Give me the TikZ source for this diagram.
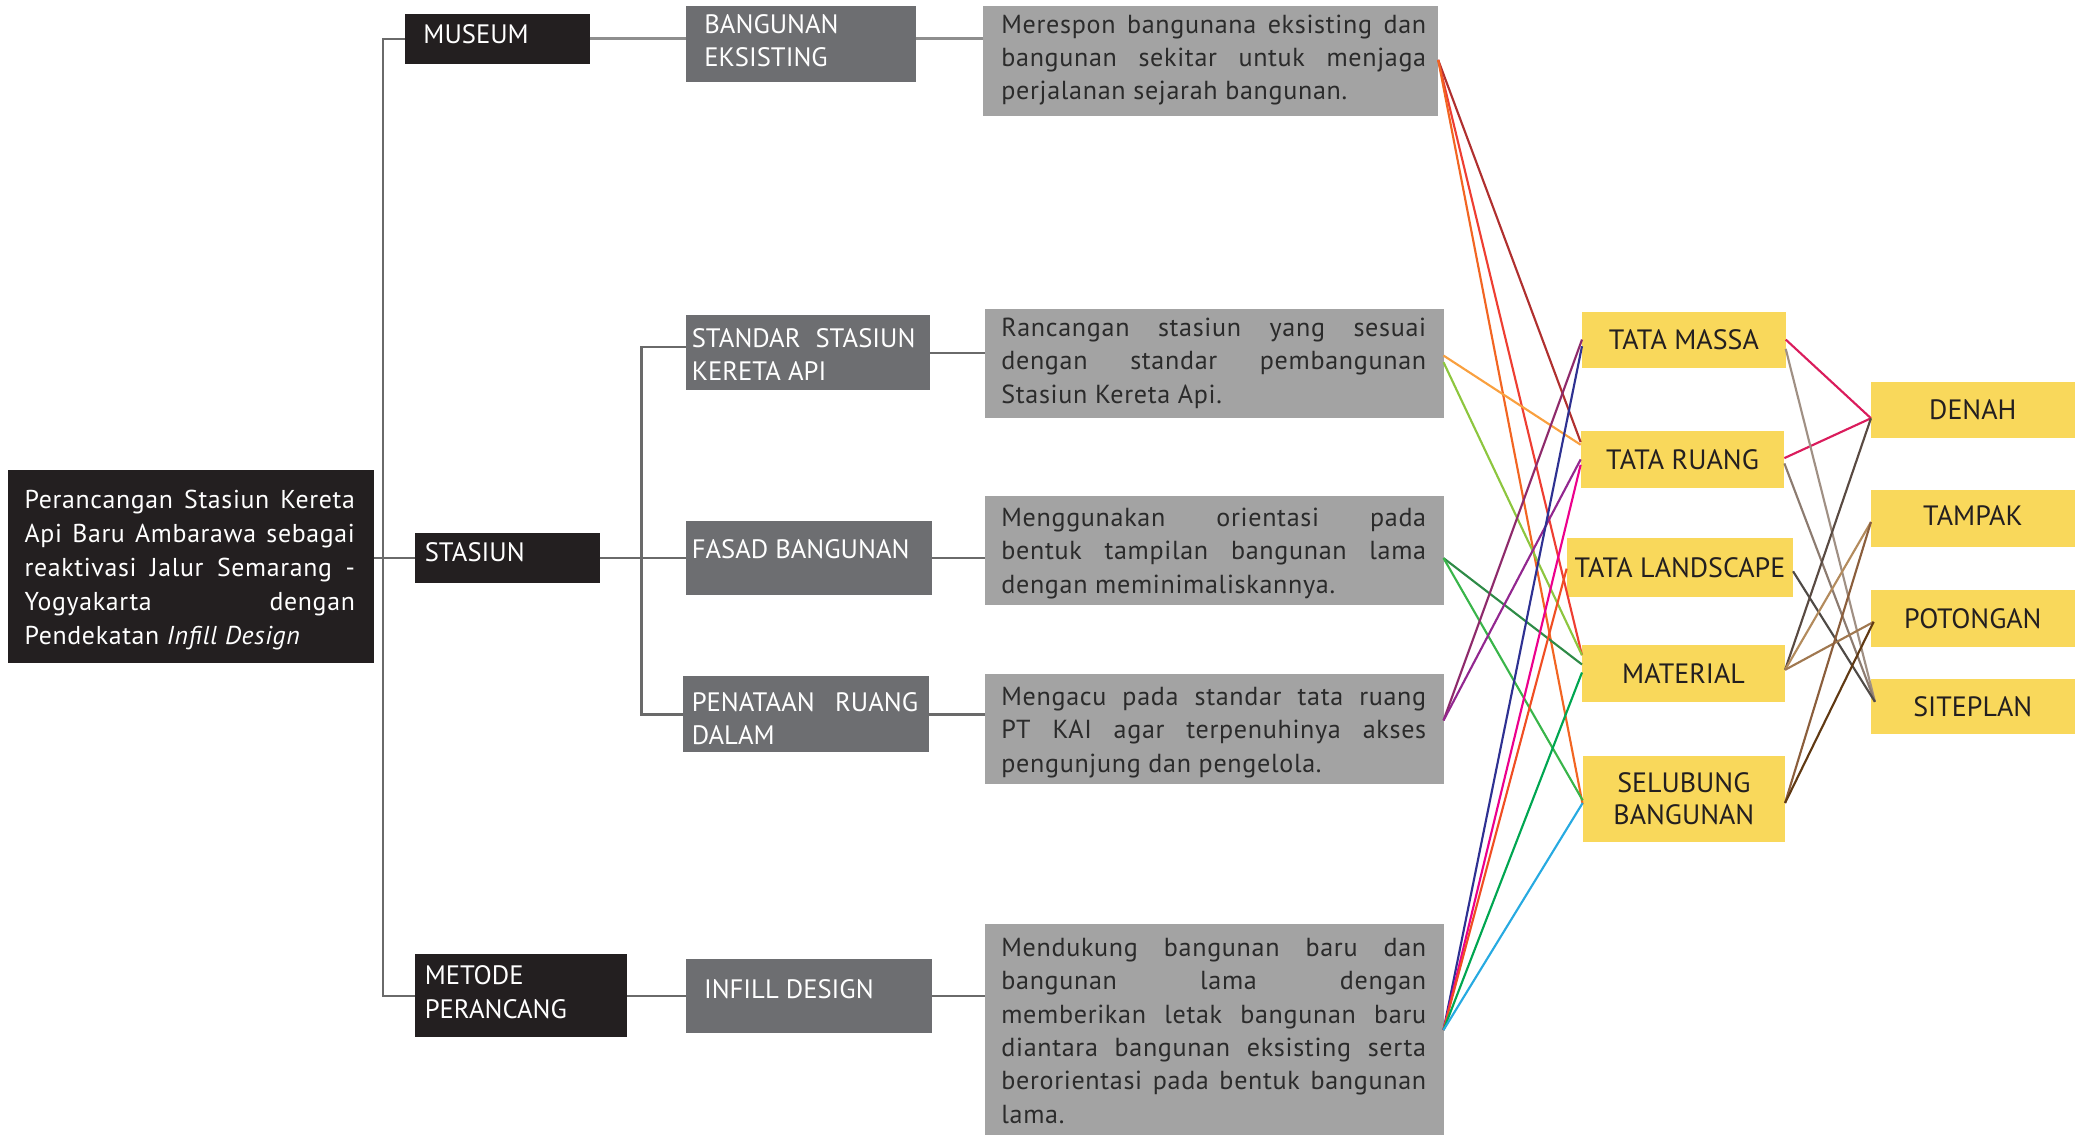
\documentclass[tikz,border=0pt]{standalone}
\usepackage{fontspec}
\setmainfont{PT Sans}
\newfontfamily\spacedfam[LetterSpace=2.6]{PT Sans}
\usetikzlibrary{calc}

% drawing unit
\newlength\un
\setlength\un{0.5pt}

% fonts
\newcommand\lblfont{\fontsize{10}{12.5}\selectfont}
\newcommand\txtfont{\spacedfam\fontsize{9.8}{12.5}\selectfont}
\newcommand\rootfont{\spacedfam\fontsize{9.7}{12.75}\selectfont}
\newcommand\ylwfont{\fontsize{10.5}{12}\selectfont}

% a justified line and a ragged line of box text
\newcommand\jline[1]{\hbox to\linewidth{\rule{0pt}{8pt}#1}}
\newcommand\rline[1]{\hbox to\linewidth{\rule{0pt}{8pt}#1\hfil}}
% box body: left pad, line width, right pad, height, first baseline, lines
\newcommand\boxbody[6]{\hspace*{#1}\parbox[b][#4][t]{#2}{\vskip\dimexpr#5-8pt\relax#6}\hspace*{#3}}

\definecolor{boxblack}{HTML}{231F20}
\definecolor{boxdark}{HTML}{6D6E71}
\definecolor{boxgrey}{HTML}{A3A3A3}
\definecolor{boxyellow}{HTML}{F9D85B}
\definecolor{bodytext}{HTML}{2B2B2B}
\definecolor{treeline}{HTML}{6A6A6A}
\definecolor{treelight}{HTML}{8E8E8E}

\definecolor{lnDarkRed}{HTML}{B0302F}
\definecolor{lnOrange}{HTML}{F26522}
\definecolor{lnRed}{HTML}{EE3E32}
\definecolor{lnAmber}{HTML}{F9A03F}
\definecolor{lnLime}{HTML}{8DC63F}
\definecolor{lnForest}{HTML}{2E8B47}
\definecolor{lnGreen}{HTML}{39B54A}
\definecolor{lnPlum}{HTML}{8E2A6B}
\definecolor{lnPurple}{HTML}{92278F}
\definecolor{lnBlue}{HTML}{2E3192}
\definecolor{lnMagenta}{HTML}{EC008C}
\definecolor{lnScarlet}{HTML}{F04E23}
\definecolor{lnEmerald}{HTML}{00A651}
\definecolor{lnCyan}{HTML}{27AAE1}
\definecolor{lnPink}{HTML}{DA1C5C}
\definecolor{lnTaupe}{HTML}{A09084}
\definecolor{lnTaupeDark}{HTML}{8C7B70}
\definecolor{lnCharcoal}{HTML}{4F4A46}
\definecolor{lnUmber}{HTML}{594A42}
\definecolor{lnTan}{HTML}{B38B5D}
\definecolor{lnBrown}{HTML}{A07850}
\definecolor{lnCopper}{HTML}{8B5E3C}
\definecolor{lnChocolate}{HTML}{603913}

\tikzset{
  boxnode/.style={anchor=north west, inner sep=0pt, outer sep=0pt},
  blackbox/.style={boxnode, fill=boxblack, text=white, font=\lblfont},
  darkbox/.style={boxnode, fill=boxdark, text=white, font=\lblfont},
  greybox/.style={boxnode, fill=boxgrey, text=bodytext, font=\txtfont},
  rootbox/.style={boxnode, fill=boxblack, text=white, font=\rootfont},
  yellowbox/.style={boxnode, fill=boxyellow, text=boxblack, font=\ylwfont, align=center},
  tree/.style={draw=treeline, line width=0.8pt},
  treelite/.style={draw=treelight, line width=1.1pt},
  link/.style={line width=0.8pt},
}

\begin{document}
\begin{tikzpicture}[x=0.5pt, y=-0.5pt]
\useasboundingbox (0,0) rectangle (1568,852);

% ---- root and first level ----
\node[rootbox] (root) at (6,353) {\boxbody{12.5\un}{248\un}{14.5\un}{145\un}{14.5pt}{%
  \jline{Perancangan Stasiun Kereta}
  \jline{Api Baru Ambarawa sebagai}
  \jline{reaktivasi Jalur Semarang -}
  \jline{Yogyakarta dengan}
  \rline{Pendekatan \textit{Infill Design}}}};

\node[blackbox] (mus) at (304,10.5) {\boxbody{14\un}{125\un}{0pt}{37.5\un}{11pt}{\rline{MUSEUM}}};
\node[blackbox] (sta) at (312,400) {\boxbody{7\un}{131.5\un}{0pt}{38\un}{11pt}{\rline{STASIUN}}};
\node[blackbox] (met) at (312,716.5) {\boxbody{7\un}{152\un}{0pt}{62.5\un}{11.5pt}{%
  \rline{METODE}
  \rline{PERANCANG}}};

% ---- second level ----
\node[darkbox] (beks) at (515,4.5) {\boxbody{14\un}{159\un}{0pt}{57\un}{10.25pt}{%
  \rline{BANGUNAN}
  \rline{EKSISTING}}};
\node[darkbox] (std) at (515,236.6) {\boxbody{4.5\un}{168\un}{11\un}{56.5\un}{12pt}{%
  \jline{STANDAR STASIUN}
  \rline{KERETA API}}};
\node[darkbox] (fas) at (515,391) {\boxbody{4.5\un}{170\un}{10.5\un}{56\un}{14.35pt}{\rline{FASAD BANGUNAN}}};
\node[darkbox] (pen) at (513,508) {\boxbody{6.5\un}{170\un}{8\un}{57\un}{13pt}{%
  \jline{PENATAAN RUANG}
  \rline{DALAM}}};
\node[darkbox] (inf) at (515,720) {\boxbody{13.7\un}{170\un}{1.3\un}{56\un}{15pt}{\rline{INFILL DESIGN}}};

% ---- descriptions ----
\node[greybox] (d1) at (738,4.5) {\boxbody{14\un}{319\un}{9\un}{82.5\un}{10.25pt}{%
  \jline{Merespon bangunana eksisting dan}
  \jline{bangunan sekitar untuk menjaga}
  \rline{perjalanan sejarah bangunan.}}};
\node[greybox] (d2) at (740,232) {\boxbody{12\un}{319\un}{13\un}{82\un}{10.4pt}{%
  \jline{Rancangan stasiun yang sesuai}
  \jline{dengan standar pembangunan}
  \rline{Stasiun Kereta Api.}}};
\node[greybox] (d3) at (740,372.6) {\boxbody{12\un}{319\un}{13\un}{82\un}{11.4pt}{%
  \jline{Menggunakan orientasi pada}
  \jline{bentuk tampilan bangunan lama}
  \rline{dengan meminimaliskannya.}}};
\node[greybox] (d4) at (740,506) {\boxbody{12\un}{319\un}{13\un}{83\un}{11.9pt}{%
  \jline{Mengacu pada standar tata ruang}
  \jline{PT KAI agar terpenuhinya akses}
  \rline{pengunjung dan pengelola.}}};
\node[greybox] (d5) at (740,694) {\boxbody{12\un}{319\un}{13\un}{162\un}{12.2pt}{%
  \jline{Mendukung bangunan baru dan}
  \jline{bangunan lama dengan}
  \jline{memberikan letak bangunan baru}
  \jline{diantara bangunan eksisting serta}
  \jline{berorientasi pada bentuk bangunan}
  \rline{lama.}}};

% ---- design aspects ----
\node[yellowbox, minimum width=153\un, minimum height=42\un] (tm) at (1188,234) {TATA MASSA};
\node[yellowbox, minimum width=153\un, minimum height=42.5\un] (tr) at (1187,324) {TATA RUANG};
\node[yellowbox, minimum width=170\un, minimum height=44\un] (tl) at (1176.5,404) {TATA LANDSCAPE};
\node[yellowbox, minimum width=152.5\un, minimum height=43\un] (mat) at (1188,484) {MATERIAL};
\node[yellowbox, minimum width=152\un, minimum height=65\un] (sel) at (1188.5,567.5) {SELUBUNG\\BANGUNAN};

% ---- drawings ----
\node[yellowbox, minimum width=153\un, minimum height=42.5\un] (den) at (1405,286.6) {DENAH};
\node[yellowbox, minimum width=153\un, minimum height=42.5\un] (tam) at (1405,368) {\raisebox{2pt}{TAMPAK}};
\node[yellowbox, minimum width=153\un, minimum height=42.6\un] (pot) at (1405,443) {POTONGAN};
\node[yellowbox, minimum width=153\un, minimum height=41\un] (sit) at (1405,510) {SITEPLAN};

% ---- tree connectors ----
\coordinate (trunk) at (287.5,0);
\coordinate (trunkb) at (481.7,0);
\draw[tree] (mus.west) -- (mus.west -| trunk) -- (met.west -| trunk) -- (met.west);
\draw[tree] (root.east |- sta.west) -- (sta.west);
\draw[tree] (sta.east) -- (fas.west);
\coordinate (stdin) at ($(std.north west)+(0,24)$);
\draw[tree] (stdin) -- (stdin -| trunkb) -- (pen.west -| trunkb) -- (pen.west);
\draw[treelite] (mus.east) -- (mus.east -| beks.west);
\draw[treelite] (mus.east -| beks.east) -- (mus.east -| d1.west);
\draw[tree] (std.east) -- (std.east -| d2.west);
\draw[tree] (fas.east) -- (fas.east -| d3.west);
\draw[tree] (pen.east) -- (pen.east -| d4.west);
\draw[tree] (met.east) -- (met.east -| inf.west);
\draw[tree] (inf.east) -- (inf.east -| d5.west);

% ---- description to aspect links ----
\coordinate (o1) at ($(d1.north east)+(0,40.5)$);
\draw[link, lnDarkRed] (o1) -- ($(tr.north west)+(0,8)$);
\draw[link, lnRed] (o1) -- ($(mat.north west)+(0,8)$);
\draw[link, lnOrange] (o1) -- ($(sel.north west)+(0,36.5)$);

\draw[link, lnAmber] ($(d2.north east)+(0,35)$) -- ($(tr.north west)+(0,10)$);
\draw[link, lnLime] ($(d2.north east)+(0,40)$) -- ($(mat.north west)+(0,8)$);

\coordinate (o3) at ($(d3.north east)+(0,46.5)$);
\draw[link, lnForest] (o3) -- ($(mat.north west)+(0,15)$);
\draw[link, lnGreen] (o3) -- ($(sel.north west)+(0,33.5)$);

\coordinate (o4) at ($(d4.north east)+(0,35)$);
\draw[link, lnPlum] (o4) -- ($(tm.north west)+(0,21)$);
\draw[link, lnPurple] (o4) -- ($(tr.north west)+(0,21)$);

\coordinate (o5) at ($(d5.north east)+(0,79.5)$);
\draw[link, lnBlue] (o5) -- ($(tm.north west)+(0,26)$);
\draw[link, lnMagenta] (o5) -- ($(tr.north west)+(0,25)$);
\draw[link, lnScarlet] (o5) -- ($(tl.north west)+(0,23)$);
\draw[link, lnEmerald] (o5) -- ($(mat.north west)+(0,21)$);
\draw[link, lnCyan] (o5) -- ($(sel.north west)+(0,35.5)$);

% ---- aspect to drawing links ----
\coordinate (iden) at ($(den.north west)+(0,27.5)$);
\coordinate (itam) at ($(tam.north west)+(0,24)$);
\coordinate (ipot) at ($(pot.north west)+(2,24)$);
\coordinate (isit) at ($(sit.north west)+(3,17)$);
\draw[link, lnPink] ($(tm.north east)+(0,21)$) -- (iden);
\draw[link, lnPink] ($(tr.north east)+(0,20)$) -- (iden);
\draw[link, lnTaupe] ($(tm.north east)+(0,28)$) -- (isit);
\draw[link, lnTaupeDark] ($(tr.north east)+(0,24)$) -- (isit);
\draw[link, lnCharcoal] ($(tl.north east)+(0,25)$) -- (isit);
\coordinate (omat) at ($(mat.north east)+(0,19)$);
\draw[link, lnUmber] (omat) -- (iden);
\draw[link, lnTan] (omat) -- (itam);
\draw[link, lnBrown] (omat) -- (ipot);
\coordinate (osel) at ($(sel.north east)+(0,35.5)$);
\draw[link, lnCopper] (osel) -- (itam);
\draw[link, lnChocolate] (osel) -- (ipot);
\end{tikzpicture}
\end{document}
